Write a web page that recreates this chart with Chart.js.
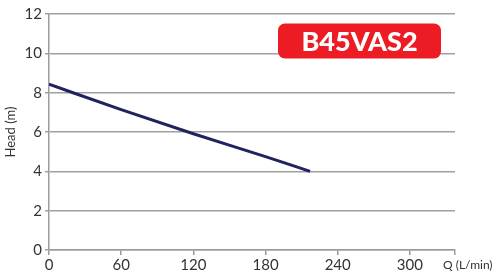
<!DOCTYPE html>
<html>
<head>
<meta charset="utf-8">
<script src="https://cdn.jsdelivr.net/npm/chart.js@4/dist/chart.umd.min.js"></script>
<style>
html,body{margin:0;padding:0;background:#fff;}
#wrap{width:496px;height:275px;position:relative;}
</style>
</head>
<body>
<div id="wrap"><canvas id="c" width="496" height="275"></canvas></div>
<script>
const flowValues = [0, 60, 120, 180, 217];
const headValues = [8.43, 7.14, 5.91, 4.75, 4.0];
const xTickValues = [0, 60, 120, 180, 240, 300];
const yTickValues = [0, 2, 4, 6, 8, 10, 12];
const modelLabel = 'B45VAS2';
const xAxisTitle = 'Q (L/min)';
const yAxisTitle = 'Head (m)';

const FONT = 'Lato, "Open Sans", sans-serif';

const badgePlugin = {
  id: 'badge',
  afterDraw(chart) {
    const ctx = chart.ctx;
    const a = chart.chartArea;
    const x = a.left + 229, y = a.top + 9.5, w = 163, h = 35, r = 7;
    ctx.save();
    ctx.fillStyle = '#ed1c24';
    ctx.beginPath();
    ctx.roundRect(x, y, w, h, r);
    ctx.fill();
    ctx.fillStyle = '#ffffff';
    ctx.font = '900 27px ' + FONT;
    ctx.textAlign = 'center';
    ctx.textBaseline = 'middle';
    ctx.fillText(modelLabel, x + w / 2, y + h / 2 + 1, 126);
    ctx.restore();
    ctx.save();
    ctx.fillStyle = '#333333';
    ctx.font = '12px ' + FONT;
    ctx.textAlign = 'left';
    ctx.textBaseline = 'middle';
    ctx.fillText(xAxisTitle, a.right - 12, a.bottom + 15);
    ctx.restore();
  }
};

new Chart(document.getElementById('c'), {
  type: 'scatter',
  data: {
    datasets: [{
      data: flowValues.map((q, i) => ({x: q, y: headValues[i]})),
      showLine: true,
      borderColor: '#222260',
      borderWidth: 3,
      pointRadius: 0,
      cubicInterpolationMode: 'monotone',
      fill: false
    }]
  },
  options: {
    responsive: false,
    animation: false,
    devicePixelRatio: 1,
    layout: {padding: {top: 14, right: 41, left: 0, bottom: 0}},
    plugins: {legend: {display: false}, tooltip: {enabled: false}},
    scales: {
      x: {
        type: 'linear',
        min: 0,
        max: 337.5,
        afterBuildTicks(axis) {
          axis.ticks = xTickValues.map(v => ({value: v})).concat([{value: 337.5}]);
        },
        afterFit(axis) { axis.height = 25; },
        grid: {
          drawOnChartArea: false,
          color: '#999999',
          lineWidth: 1.5,
          tickLength: 5
        },
        border: {color: '#9c9c9c', width: 1.5},
        ticks: {
          padding: 1,
          color: '#333333',
          font: {family: FONT, size: 15},
          maxRotation: 0,
          autoSkip: false,
          callback: (v) => xTickValues.includes(v) ? String(v) : ''
        }
      },
      y: {
        min: 0,
        max: 12,
        afterBuildTicks(axis) {
          axis.ticks = yTickValues.map(v => ({value: v}));
        },
        afterFit(axis) { axis.width = 49; },
        grid: {
          color: '#a0a0a0',
          lineWidth: 1.5,
          tickLength: 4
        },
        border: {color: '#9c9c9c', width: 1.5},
        ticks: {
          padding: 3,
          color: '#333333',
          font: {family: FONT, size: 15}
        },
        title: {
          display: true,
          text: yAxisTitle,
          color: '#333333',
          font: {family: FONT, size: 13},
          padding: {top: 3, bottom: 0}
        }
      }
    }
  },
  plugins: [badgePlugin]
});
</script>
</body>
</html>
